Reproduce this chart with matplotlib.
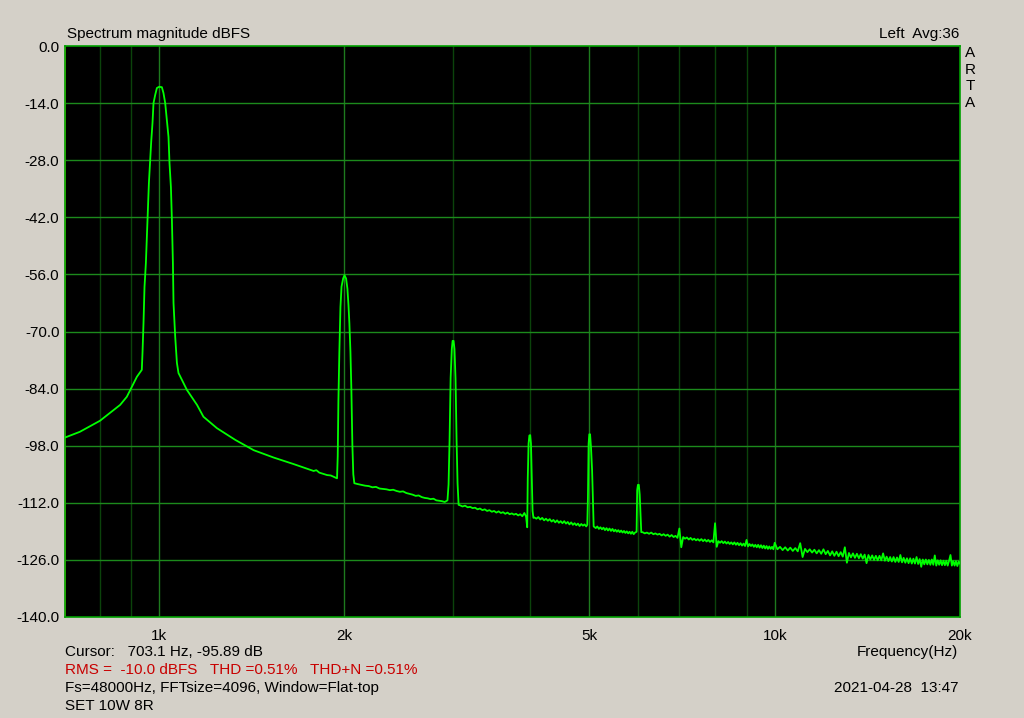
import numpy as np
import matplotlib
matplotlib.use("Agg")
import matplotlib.pyplot as plt

# ---------------- data ----------------
skirt_f = [703, 743, 801, 864, 886, 903, 920, 937]
skirt_db = [-96.0, -94.6, -91.9, -88.0, -86.0, -83.5, -81.1, -79.4]

fund_f = [939.4, 943, 946.5, 951.4, 955, 958.6, 962.2, 966.9, 970.5, 975.2, 978.9,
          985.1, 991.4, 1000, 1010, 1016, 1022.7, 1029, 1035.4, 1039.3, 1044.8,
          1048.7, 1052.6, 1055, 1061.7, 1068.5, 1074.9]
fund_db = [-75.3, -67.9, -59.1, -53.2, -46.8, -40.2, -33.6, -28.0, -23.5, -18.9, -14.0,
           -12.0, -10.3, -10.0, -10.1, -11.5, -14.0, -18.0, -22.3, -28.7, -34.6,
           -42.7, -53.2, -63.0, -71.3, -77.7, -80.2]

decay_f = [1080, 1109, 1152, 1180, 1241, 1330, 1424, 1534, 1653, 1782, 1800, 1820,
           1874, 1900, 1945]
decay_db = [-80.8, -84.3, -88.0, -90.9, -93.7, -96.6, -99.1, -100.9, -102.5, -104.2,
            -104.0, -104.6, -105.2, -105.3, -106.0]

h2_f = [1950, 1955, 1962, 1970, 1978, 1990, 2000, 2012, 2022, 2030, 2037, 2045,
        2052, 2060, 2067, 2075]
h2_db = [-100.6, -87.0, -75.0, -64.0, -59.0, -57.0, -56.2, -57.0, -59.5, -63.5,
         -68.0, -75.0, -84.0, -98.0, -105.0, -107.2]

floor2_f = list(range(2100, 2940, 30))
floor2_db = [-107.4, -107.6, -107.8, -107.9, -108.2, -108.1, -108.5, -108.6, -108.7,
             -108.9, -108.8, -109.1, -109.3, -109.2, -109.6, -109.8, -110.0, -110.3,
             -110.2, -110.6, -110.8, -110.9, -111.1, -111.0, -111.4, -111.5, -111.6,
             -111.8]

h3_f = [2940, 2952, 2963, 2975, 2988, 2997, 3008, 3018, 3030, 3042, 3053, 3065]
h3_db = [-111.4, -107.5, -96.8, -81.4, -74.3, -72.3, -72.3, -74.3, -81.6, -96.8,
         -107.2, -112.5]

floor3_f = list(range(3080, 3950, 30))
floor3_db = [-112.6, -112.9, -112.7, -113.1, -113.0, -113.3, -113.2, -113.6, -113.4,
             -113.8, -113.6, -114.0, -113.8, -114.2, -114.0, -114.4, -114.1, -114.5,
             -114.3, -114.7, -114.4, -114.8, -114.6, -114.9, -114.7, -115.1, -114.8,
             -115.3, -114.5]

h4_f = [3945, 3962, 3970, 3982, 3994, 4006, 4018, 4030, 4042, 4055]
h4_db = [-115.4, -118.0, -106.0, -97.5, -95.5, -95.4, -97.5, -106.0, -114.0, -115.7]

floor4_f = list(range(4070, 4950, 30))
floor4_db = [-115.6, -115.9, -115.5, -116.1, -115.7, -116.3, -115.9, -116.4, -116.0,
             -116.6, -116.2, -116.8, -116.3, -116.9, -116.5, -117.0, -116.5, -117.1,
             -116.7, -117.3, -116.8, -117.4, -117.0, -117.5, -117.1, -117.7, -117.2,
             -117.6, -117.3, -117.8]

h5_f = [4960, 4972, 4985, 4998, 5012, 5030, 5050, 5065, 5080]
h5_db = [-117.4, -110.8, -97.5, -95.2, -95.2, -98.5, -104.0, -110.8, -117.8]

floor5_f = list(range(5090, 5960, 30))
floor5_db = [-117.9, -118.2, -117.8, -118.4, -118.0, -118.5, -118.1, -118.7, -118.2,
             -118.8, -118.3, -118.9, -118.4, -119.0, -118.6, -119.1, -118.7, -119.2,
             -118.8, -119.3, -118.9, -119.4, -119.0, -119.5, -119.1, -119.6, -119.1,
             -119.7, -119.3]

h6_f = [5965, 5978, 5995, 6015, 6035, 6050, 6070]
h6_db = [-119.1, -108.9, -107.6, -107.6, -110.0, -114.2, -119.2]

floor6_f = list(range(6100, 10000, 50))
floor6_db = [-119.2, -119.5, -119.3, -119.6, -119.3, -119.7, -119.5, -119.8, -119.6,
             -120.0, -119.7, -120.1, -119.8, -120.3, -119.9, -120.4, -120.1, -120.6,
             -118.3, -122.9,
             -120.4, -120.8, -120.5, -121.0, -120.6, -121.1, -120.8, -121.2, -120.9,
             -121.3, -120.9, -121.4, -121.0, -121.5, -121.1, -121.6, -121.2, -121.7,
             -117.0, -122.8,
             -121.4, -121.8, -121.4, -121.9, -121.5, -122.0, -121.6, -122.1, -121.7,
             -122.2, -121.7, -122.3, -121.8, -122.4, -121.9, -122.5, -122.0, -122.6,
             -121.1,
             -122.7, -122.1, -122.6, -122.2, -122.8, -122.3, -122.9, -122.3, -123.0,
             -122.4, -123.1, -122.5, -123.2, -122.6, -123.3, -122.7, -123.3, -122.8,
             -123.4]

floor7_f = list(range(10000, 20001, 100))
floor7_db = [-121.8, -123.4, -122.8, -123.6, -122.9, -123.7, -123.0, -123.8, -123.1, -123.9,
             -121.9, -125.3, -123.3, -124.1, -123.4, -124.2, -123.5, -124.4, -123.6, -124.5,
             -123.4, -124.6, -123.8, -124.9, -123.9, -125.0, -124.0, -125.1, -124.1, -125.2,
             -122.9, -126.7, -124.3, -125.4, -124.4, -125.5, -124.5, -125.6, -124.6, -125.7,
             -124.7, -126.8, -124.8, -125.9, -124.9, -126.0, -125.0, -126.1, -125.0, -126.1,
             -124.4, -126.2, -125.2, -126.3, -125.3, -126.4, -125.3, -126.5, -125.4, -126.5,
             -124.8, -126.6, -125.5, -126.7, -125.6, -126.8, -125.6, -126.9, -125.7, -126.9,
             -125.3, -127.0, -125.8, -127.7, -125.9, -127.1, -125.9, -127.1, -126.0, -127.2,
             -125.9, -127.2, -124.9, -127.4, -126.1, -127.2, -126.1, -127.3, -126.2, -127.3,
             -126.2, -127.4, -126.2, -124.8, -127.4, -126.3, -127.4, -126.3, -127.5, -126.4,
             -126.9]

y_ticks = [0, -14, -28, -42, -56, -70, -84, -98, -112, -126, -140]
x_major = [1000, 2000, 5000, 10000, 20000]
x_major_labels = ["1k", "2k", "5k", "10k", "20k"]
x_minor_grid = [800, 900, 3000, 4000, 6000, 7000, 8000, 9000]
cursor_freq = 703.1

# ---------------- assemble trace ----------------
freq = np.array(skirt_f + fund_f + decay_f + h2_f + floor2_f + h3_f + floor3_f + h4_f
                + floor4_f + h5_f + floor5_f + h6_f + floor6_f + floor7_f, dtype=float)
level = np.array(skirt_db + fund_db + decay_db + h2_db + floor2_db + h3_db + floor3_db
                 + h4_db + floor4_db + h5_db + floor5_db + h6_db + floor6_db + floor7_db)

# ---------------- figure ----------------
plt.rcParams['font.family'] = ['Liberation Sans', 'DejaVu Sans']
BG = '#d4d0c8'
fig = plt.figure(figsize=(10.24, 7.18), dpi=100, facecolor=BG)
W, H = 1024, 718
ax = fig.add_axes([65 / W, (H - 617) / H, (960 - 65) / W, (617 - 46) / H])
ax.set_facecolor('black')
ax.set_xscale('log')
ax.set_xlim(703, 20000)
ax.set_ylim(-140, 0)

for f in x_minor_grid:
    ax.axvline(f, color='#0b430b', lw=1.0, zorder=1)
for f in x_major[:-1]:
    ax.axvline(f, color='#1e7a1e', lw=1.0, zorder=1)
for y in y_ticks[1:-1]:
    ax.axhline(y, color='#1c8a1c', lw=1.0, zorder=1)

ax.axvline(cursor_freq, color='#e8e800', lw=1.2, zorder=2)
ax.plot(freq, level, color='#00ff00', lw=1.3, zorder=3)

for s in ax.spines.values():
    s.set_color('#00a000')
    s.set_linewidth(1.2)

fs = 11
ax.set_xticks(x_major)
ax.set_xticklabels(x_major_labels)
ax.xaxis.set_minor_locator(matplotlib.ticker.NullLocator())
ax.set_yticks(y_ticks)
ax.set_yticklabels([f"{v:.1f}" for v in y_ticks])
ax.tick_params(axis='both', length=0, labelsize=fs, colors='black')
ax.tick_params(axis='x', pad=9)
ax.tick_params(axis='y', pad=4)

def ftext(x, y, s, ha='left', color='black', va='center'):
    fig.text(x / W, 1 - y / H, s, ha=ha, va=va, fontsize=fs, color=color)

ftext(67, 34, "Spectrum magnitude dBFS")
ftext(959, 34, "Left  Avg:36", ha='right')
for i, ch in enumerate("ARTA"):
    ftext(970, 53 + i * 16.7, ch, ha='center')
ftext(65, 652, "Cursor:   703.1 Hz, -95.89 dB")
ftext(65, 670, "RMS =  -10.0 dBFS   THD =0.51%   THD+N =0.51%", color='#c80000')
ftext(65, 688, "Fs=48000Hz, FFTsize=4096, Window=Flat-top")
ftext(65, 706, "SET 10W 8R")
ftext(958, 652, "Frequency(Hz)", ha='right')
ftext(958, 688, "2021-04-28  13:47", ha='right')

fig.savefig("out.png", dpi=100, facecolor=BG)
